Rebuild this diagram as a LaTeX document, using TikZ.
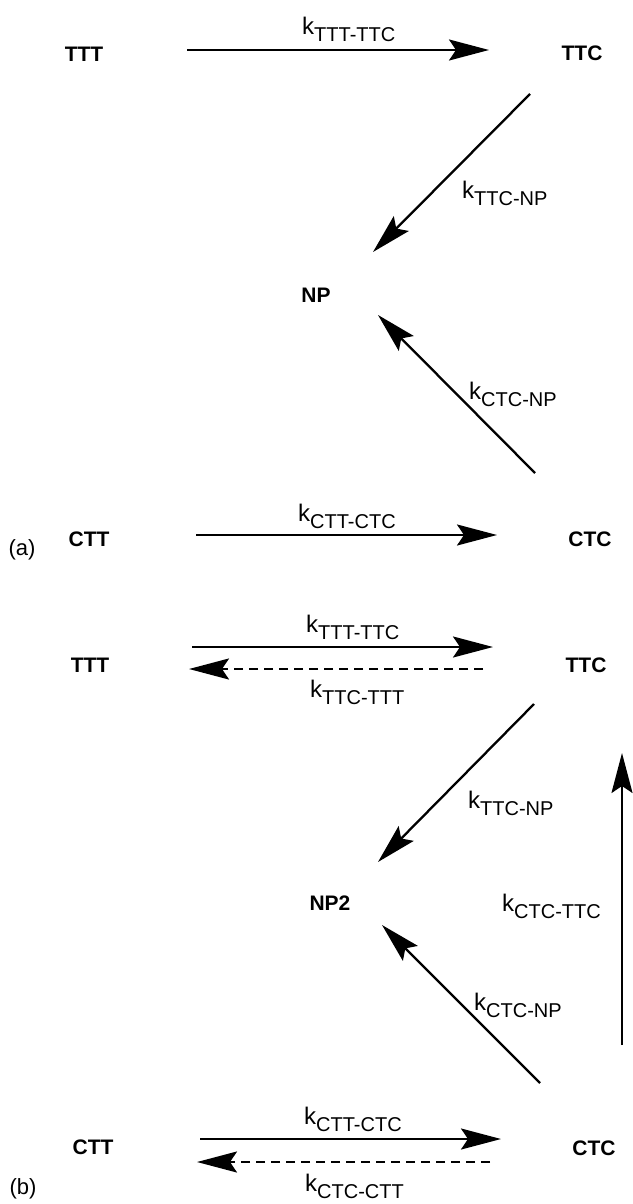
\documentclass[tikz,border=0pt]{standalone}
\usepackage{fontspec}
\setmainfont{Liberation Sans}
\usetikzlibrary{arrows.meta}
\newcommand\ratek[1]{{\fontsize{24}{24}\selectfont k}\raisebox{-7pt}{\fontsize{20}{20}\selectfont #1}}
\begin{document}
\begin{tikzpicture}[x=1pt,y=-1pt,
  state/.style={font=\fontsize{21}{21}\selectfont\bfseries, inner sep=0pt},
  panel/.style={font=\fontsize{22}{22}\selectfont, inner sep=0pt},
  rate/.style={anchor=base west, inner sep=0pt},
  rx/.style={line width=2.3pt, -{Stealth[length=40pt,width=21pt,inset=7pt]}},
  rev/.style={rx, dash pattern=on 9pt off 6pt}]
\useasboundingbox (0,0) rectangle (632,1204);
% ---------- panel (a) ----------
\node[state] (TTTa) at (84,54) {TTT};
\node[state] (TTCa) at (582,53) {TTC};
\node[state] (NPa)  at (316,295) {NP};
\node[state] (CTTa) at (89,539) {CTT};
\node[state] (CTCa) at (590,539) {CTC};
\node[panel] (laba) at (22,550) {(a)};
\coordinate (a1s) at (187,50);  \coordinate (a1e) at (489,50);
\coordinate (a2s) at (530,94);  \coordinate (a2e) at (373,252);
\coordinate (a3s) at (535,473); \coordinate (a3e) at (378,315);
\coordinate (a4s) at (196,535); \coordinate (a4e) at (497,535);
\draw[rx] (a1s) -- (a1e);
\draw[rx] (a2s) -- (a2e);
\draw[rx] (a3s) -- (a3e);
\draw[rx] (a4s) -- (a4e);
\node[rate] (ka1) at (302,35)  {\ratek{TTT-TTC}};
\node[rate] (ka2) at (462,198) {\ratek{TTC-NP}};
\node[rate] (ka3) at (469,399) {\ratek{CTC-NP}};
\node[rate] (ka4) at (298,521) {\ratek{CTT-CTC}};
% ---------- panel (b) ----------
\node[state] (TTTb) at (90,665) {TTT};
\node[state] (TTCb) at (586,665) {TTC};
\node[state] (NPb)  at (330,903) {NP2};
\node[state] (CTTb) at (93,1147) {CTT};
\node[state] (CTCb) at (594,1148) {CTC};
\node[panel] (labb) at (23,1189) {(b)};
\coordinate (b1s) at (192,647);  \coordinate (b1e) at (493,647);
\coordinate (b2s) at (483,669);  \coordinate (b2e) at (189,669);
\coordinate (b3s) at (534,704);  \coordinate (b3e) at (378,862);
\coordinate (b4s) at (622,1045); \coordinate (b4e) at (622,753);
\coordinate (b5s) at (540,1083); \coordinate (b5e) at (382,925);
\coordinate (b6s) at (200,1139); \coordinate (b6e) at (501,1139);
\coordinate (b7s) at (490,1162); \coordinate (b7e) at (197,1162);
\draw[rx]  (b1s) -- (b1e);
\draw[rev] (b2s) -- (b2e);
\draw[rx]  (b3s) -- (b3e);
\draw[rx, line width=2pt] (b4s) -- (b4e);
\draw[rx]  (b5s) -- (b5e);
\draw[rx]  (b6s) -- (b6e);
\draw[rev] (b7s) -- (b7e);
\node[rate] (kb1) at (306,632)  {\ratek{TTT-TTC}};
\node[rate] (kb2) at (310,697)  {\ratek{TTC-TTT}};
\node[rate] (kb3) at (468,808)  {\ratek{TTC-NP}};
\node[rate] (kb4) at (502,911)  {\ratek{CTC-TTC}};
\node[rate] (kb5) at (474,1010) {\ratek{CTC-NP}};
\node[rate] (kb6) at (304,1124) {\ratek{CTT-CTC}};
\node[rate] (kb7) at (305,1191) {\ratek{CTC-CTT}};
\end{tikzpicture}
\end{document}
